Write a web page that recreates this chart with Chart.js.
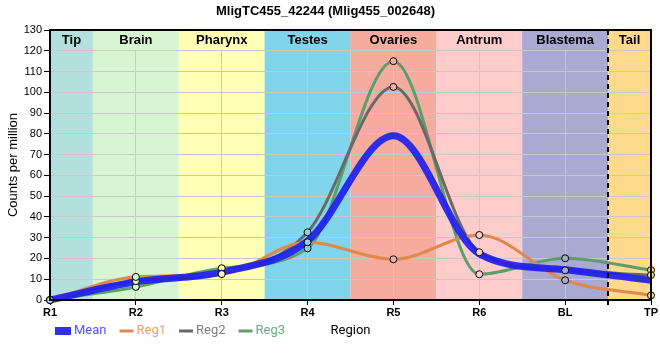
<!DOCTYPE html>
<html><head><meta charset="utf-8">
<script src="https://cdn.jsdelivr.net/npm/chart.js@4.4.0/dist/chart.umd.min.js"></script>
<style>html,body{margin:0;padding:0;background:#fff;}#wrap{width:660px;height:360px;}</style>
</head><body><div id="wrap"><canvas id="c" width="660" height="360"></canvas></div>
<script>
const categories = ['R1','R2','R3','R4','R5','R6','BL','TP'];
const regionNames = ['Tip','Brain','Pharynx','Testes','Ovaries','Antrum','Blastema','Tail'];
const regionColors = ['#b3e0dc','#d6f5d0','#ffffb5','#80d4eb','#f5ab9e','#ffcccc','#a9a9d1','#ffd98c'];
const meanValues = [0, 8.8, 13.4, 28.4, 79.1, 22.2, 14.6, 9.5];
const reg1Values = [0, 11.1, 12.5, 27.8, 19.6, 31.3, 9.5, 2.2];
const reg2Values = [0, 9.1, 12.7, 32.6, 102.6, 23.0, 14.3, 12.0];
const reg3Values = [0, 6.3, 15.3, 24.9, 115.0, 12.4, 20.1, 14.4];
const yMin = 0, yMax = 130, yStep = 10;
const titleText = 'MligTC455_42244 (Mlig455_002648)';

const SANS = '"Liberation Sans", Arial, sans-serif';
const LEG = 'Roboto, "Liberation Sans", Arial, sans-serif';

function lineDs(label, data, color, width, order, legendColor, kind) {
  return {label, data, borderColor: color, backgroundColor: color, borderWidth: width,
    cubicInterpolationMode: 'monotone', pointRadius: 0, pointHoverRadius: 0, fill: false,
    order, legendColor, legendKind: kind, clip: false};
}
function pointDs(data) {
  return {label: '_pts', data, showLine: false, pointRadius: 3.5, pointBorderWidth: 1,
    pointBorderColor: '#000', pointBackgroundColor: regionColors, order: 0, clip: false, pointHoverRadius: 3.5};
}

const bandsPlugin = {
  id: 'bands',
  beforeDraw(chart) {
    const {ctx, chartArea: a, scales: {x}} = chart;
    ctx.save();
    regionNames.forEach((n, i) => {
      const x0 = Math.max(a.left, x.getPixelForValue(i - 0.5));
      const x1 = Math.min(a.right, x.getPixelForValue(i + 0.5));
      ctx.fillStyle = regionColors[i];
      ctx.fillRect(x0, a.top, x1 - x0, a.bottom - a.top);
    });
    ctx.restore();
  },
  beforeDatasetsDraw(chart) {
    const {ctx, chartArea: a, scales: {x, y}} = chart;
    const stripBottom = y.getPixelForValue(yMax - yStep) - 1;
    ctx.save();
    regionNames.forEach((n, i) => {
      const x0 = Math.max(a.left, x.getPixelForValue(i - 0.5));
      const x1 = Math.min(a.right, x.getPixelForValue(i + 0.5));
      ctx.fillStyle = regionColors[i];
      ctx.fillRect(x0, a.top, x1 - x0, stripBottom - a.top);
      ctx.fillStyle = '#000';
      ctx.font = 'bold 13px ' + SANS;
      ctx.textAlign = 'center';
      ctx.textBaseline = 'middle';
      ctx.fillText(n, (x0 + x1) / 2, a.top + 10);
    });
    ctx.restore();
  },
  afterDatasetsDraw(chart) {
    const {ctx, chartArea: a, scales: {x}} = chart;
    ctx.save();
    const xd = Math.round(x.getPixelForValue(categories.length - 1.5));
    ctx.strokeStyle = '#000';
    ctx.lineWidth = 2;
    ctx.setLineDash([5, 4]);
    ctx.beginPath(); ctx.moveTo(xd, a.top); ctx.lineTo(xd, a.bottom + 5); ctx.stroke();
    ctx.setLineDash([]);
    ctx.strokeRect(a.left, a.top, a.right - a.left, a.bottom - a.top);
    ctx.restore();
  },
  afterDraw(chart) {
    const {ctx} = chart;
    ctx.save();
    ctx.font = '13px ' + LEG;
    ctx.textBaseline = 'middle';
    ctx.textAlign = 'left';
    let px = 55; const cy = 331;
    chart.data.datasets.filter(d => d.legendKind).forEach(d => {
      if (d.legendKind === 'box') {
        ctx.fillStyle = d.borderColor;
        ctx.fillRect(px, cy - 4, 16, 8);
        px += 19;
      } else {
        ctx.strokeStyle = d.borderColor;
        ctx.lineWidth = 3;
        ctx.beginPath(); ctx.moveTo(px, cy); ctx.lineTo(px + 14, cy); ctx.stroke();
        px += 17;
      }
      ctx.fillStyle = d.legendColor;
      ctx.fillText(d.label, px, cy);
      px += ctx.measureText(d.label).width + 13;
    });
    ctx.restore();
  }
};

new Chart(document.getElementById('c'), {
  type: 'line',
  data: {
    labels: categories,
    datasets: [
      pointDs(reg1Values), pointDs(reg2Values), pointDs(reg3Values),
      lineDs('Mean', meanValues, 'rgba(30,30,240,0.92)', 7, 1, '#5050ff', 'box'),
      lineDs('Reg1', reg1Values, '#e0884a', 3, 2, '#eea06c', 'line'),
      lineDs('Reg2', reg2Values, '#696969', 3, 3, '#808080', 'line'),
      lineDs('Reg3', reg3Values, '#5a9e6a', 3, 4, '#6aae7e', 'line')
    ]
  },
  options: {
    responsive: false,
    animation: false,
    layout: {padding: {left: 0, right: 9, top: 0, bottom: 0}},
    plugins: {
      legend: {display: false},
      tooltip: {enabled: false},
      title: {display: true, text: titleText, color: '#000',
        font: {family: SANS, size: 13, weight: 'bold'}, padding: {top: 4, bottom: 10.4}}
    },
    scales: {
      x: {
        offset: false,
        grid: {color: '#c8c8c8', lineWidth: 1, tickColor: '#000', tickLength: 5},
        border: {color: '#000', width: 2},
        ticks: {color: '#000', font: {family: SANS, size: 11, weight: 'bold'}, padding: 1, maxRotation: 0, autoSkip: false},
        title: {display: true, text: 'Region', color: '#000', font: {family: LEG, size: 13}, padding: {top: 4, bottom: 21}},
        afterFit(s) { s.height = 60; }
      },
      y: {
        min: yMin, max: yMax,
        grid: {color: '#c8c8c8', lineWidth: 1, tickColor: '#000', tickLength: 6},
        border: {color: '#000', width: 2},
        ticks: {stepSize: yStep, color: '#000', font: {family: SANS, size: 11}, padding: 2},
        title: {display: true, text: 'Counts per million', color: '#000', font: {family: SANS, size: 13}, padding: {top: 6, bottom: 0}},
        afterFit(s) { s.width = 50; }
      }
    }
  },
  plugins: [bandsPlugin]
});
</script></body></html>
